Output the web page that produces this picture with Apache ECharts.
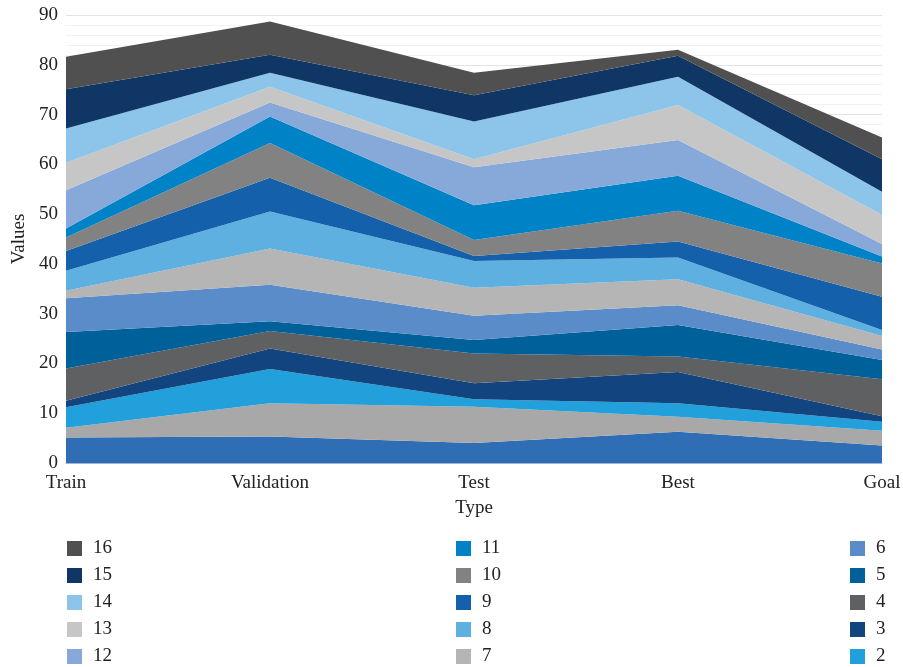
<!DOCTYPE html>
<html>
<head>
<meta charset="utf-8">
<script src="https://cdn.jsdelivr.net/npm/echarts@6/dist/echarts.min.js"></script>
<style>
html,body{margin:0;padding:0;background:#fff;overflow:hidden;}
#chart{width:903px;height:667px;}
</style>
</head>
<body>
<div id="chart"></div>
<script>
var categories = ["Train", "Validation", "Test", "Best", "Goal"];
var yTicks = [0, 10, 20, 30, 40, 50, 60, 70, 80, 90];
var seriesNames = ["0", "1", "2", "3", "4", "5", "6", "7", "8", "9", "10", "11", "12", "13", "14", "15", "16"];
var s0  = [5.1, 5.3, 4.0, 6.3, 3.5];
var s1  = [2.0, 6.7, 7.3, 3.0, 3.0];
var s2  = [4.1, 6.9, 1.5, 2.7, 1.8];
var s3  = [1.3, 4.1, 3.2, 6.3, 1.1];
var s4  = [6.5, 3.5, 6.0, 3.1, 7.4];
var s5  = [7.3, 2.0, 2.7, 6.3, 3.9];
var s6  = [6.8, 7.3, 4.9, 4.0, 2.1];
var s7  = [1.5, 7.3, 5.6, 5.2, 2.7];
var s8  = [4.0, 7.4, 5.4, 4.4, 1.2];
var s9  = [4.0, 6.8, 1.0, 3.2, 6.7];
var s10 = [2.7, 7.0, 3.2, 6.2, 6.7];
var s11 = [1.8, 5.3, 7.0, 7.0, 1.4];
var s12 = [7.7, 2.8, 7.6, 7.2, 2.5];
var s13 = [5.5, 3.2, 1.6, 7.0, 5.8];
var s14 = [6.9, 2.8, 7.6, 5.7, 4.7];
var s15 = [7.9, 3.6, 5.3, 4.2, 6.5];
var s16 = [6.5, 6.7, 4.5, 1.2, 4.4];
var seriesValues = [s0, s1, s2, s3, s4, s5, s6, s7, s8, s9, s10, s11, s12, s13, s14, s15, s16];
var colors = ["#2f6db5", "#a8a8a8", "#22a0db", "#12457f", "#5f6062", "#00619a", "#5a8cc9", "#b5b5b5",
              "#5eb0e0", "#1560ab", "#828282", "#0083c6", "#86a9da", "#c6c6c6", "#8cc5e9", "#0f3664", "#505050"];
var legendCol1 = ["16", "15", "14", "13", "12"];
var legendCol2 = ["11", "10", "9", "8", "7"];
var legendCol3 = ["6", "5", "4", "3", "2"];

var FONT = "'Liberation Serif', 'DejaVu Serif', serif";
var chart = echarts.init(document.getElementById('chart'), null, {renderer: 'canvas', width: 903, height: 667});

var series = seriesValues.map(function (vals, i) {
  return {
    name: seriesNames[i],
    type: 'line',
    stack: 'total',
    data: vals,
    symbol: 'none',
    showSymbol: false,
    lineStyle: {width: 0, color: colors[i]},
    itemStyle: {color: colors[i]},
    areaStyle: {color: colors[i], opacity: 1},
    emphasis: {disabled: true},
    animation: false
  };
});

function legend(data, left) {
  return {
    data: data,
    orient: 'vertical',
    left: left,
    top: 539,
    bottom: 0,
    padding: 0,
    itemWidth: 15,
    itemHeight: 15,
    itemGap: 8,
    icon: 'rect',
    selectedMode: false,
    textStyle: {fontFamily: FONT, fontSize: 19, color: '#222', padding: [0, 0, 0, 6]}
  };
}

chart.setOption({
  animation: false,
  backgroundColor: '#fff',
  grid: {left: 66, right: 21, top: 15, bottom: 204, containLabel: false, outerBoundsMode: 'none'},
  legend: [legend(legendCol1, 67), legend(legendCol2, 456), legend(legendCol3, 850)],
  xAxis: {
    type: 'category',
    data: categories,
    boundaryGap: false,
    name: 'Type',
    nameLocation: 'middle',
    nameGap: 36,
    nameTextStyle: {fontFamily: FONT, fontSize: 19, color: '#222'},
    axisLine: {show: true, lineStyle: {color: '#9fb6d8', width: 1}},
    axisTick: {show: false},
    axisLabel: {fontFamily: FONT, fontSize: 19, color: '#222', margin: 11},
    splitLine: {show: false}
  },
  yAxis: {
    type: 'value',
    min: yTicks[0],
    max: yTicks[yTicks.length - 1],
    interval: 10,
    name: 'Values',
    nameLocation: 'middle',
    nameGap: 37,
    nameRotate: 90,
    nameTextStyle: {fontFamily: FONT, fontSize: 19, color: '#222'},
    axisLine: {show: false},
    axisTick: {show: false},
    axisLabel: {fontFamily: FONT, fontSize: 19, color: '#222', margin: 8},
    splitLine: {show: true, lineStyle: {color: '#e3e3e3', width: 1}},
    minorTick: {show: false, splitNumber: 5},
    minorSplitLine: {show: true, lineStyle: {color: '#f2f2f2', width: 1}}
  },
  series: series
});
</script>
</body>
</html>
